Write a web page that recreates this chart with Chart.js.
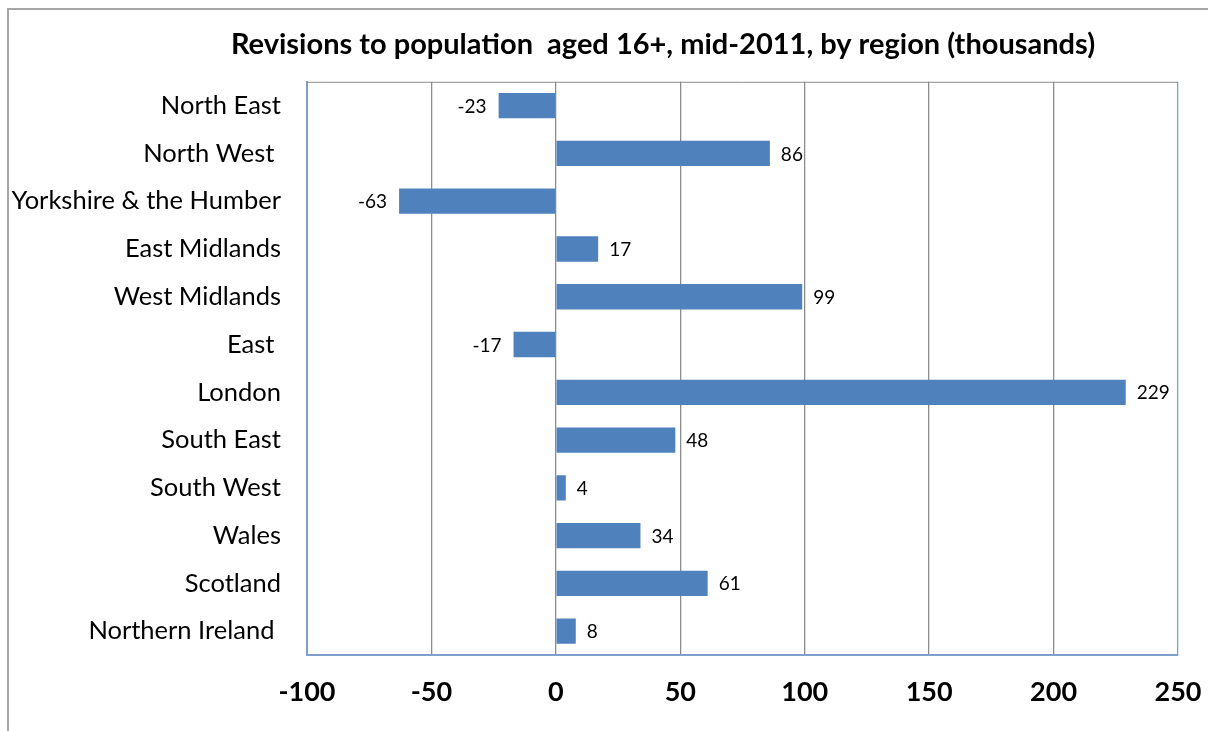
<!DOCTYPE html>
<html>
<head>
<meta charset="utf-8">
<script src="https://cdn.jsdelivr.net/npm/chart.js@4"></script>
<style>
  body { margin: 0; background: #fff; }
  #frame { position: absolute; left: 7px; top: 8px; width: 1400px; height: 900px; border: 2px solid #a6a6a6; }
  #wrap { position: absolute; left: 0; top: 0; width: 1208px; height: 731px; }
</style>
</head>
<body>
<div id="frame"></div>
<div id="wrap"><canvas id="myChart" width="1208" height="731"></canvas></div>
<script>
// Chart data
const regions = ["North East", "North West ", "Yorkshire & the Humber", "East Midlands", "West Midlands", "East ",
    "London", "South East", "South West", "Wales", "Scotland", "Northern Ireland "];
const revisions = [-23, 86, -63, 17, 99, -17, 229, 48, 4, 34, 61, 8];
const xTicks = [-100, -50, 0, 50, 100, 150, 200, 250];

const font = "Lato, 'Open Sans', sans-serif";

// value labels beside each bar
const valueLabels = {
    id: 'valueLabels',
    afterDatasetsDraw(chart) {
        const ctx = chart.ctx;
        const meta = chart.getDatasetMeta(0);
        ctx.save();
        ctx.font = "19px " + font;
        ctx.fillStyle = "#000";
        ctx.textBaseline = "middle";
        meta.data.forEach((bar, i) => {
            const v = revisions[i];
            if (v < 0) {
                ctx.textAlign = "right";
                ctx.fillText(String(v), bar.x - 12, bar.y + 1);
            } else {
                ctx.textAlign = "left";
                ctx.fillText(String(v), bar.x + 11, bar.y + 1);
            }
        });
        ctx.restore();
    }
};

// top edge of the plot area, and title centred like the original
const plotTop = {
    id: 'plotTop',
    afterLayout(chart) {
        const tb = chart.titleBlock;
        if (tb) tb.left = 663 * 2 - tb.right;
    },
    afterDraw(chart) {
        const a = chart.chartArea;
        const ctx = chart.ctx;
        ctx.save();
        ctx.strokeStyle = "#8c8c8c";
        ctx.lineWidth = 1;
        ctx.beginPath();
        ctx.moveTo(a.left, a.top + 0.5);
        ctx.lineTo(a.right, a.top + 0.5);
        ctx.stroke();
        ctx.restore();
    }
};

new Chart(document.getElementById("myChart"), {
    type: 'bar',
    data: {
        labels: regions,
        datasets: [{
            data: revisions,
            backgroundColor: '#4f81bd',
            borderWidth: 0,
            categoryPercentage: 1,
            barPercentage: 0.53
        }]
    },
    options: {
        indexAxis: 'y',
        responsive: false,
        animation: false,
        layout: { padding: { top: 0, right: 30, bottom: 0, left: 0 } },
        plugins: {
            legend: { display: false },
            tooltip: { enabled: false },
            title: {
                display: true,
                text: "Revisions to population  aged 16+, mid-2011, by region (thousands)",
                color: "#000",
                font: { family: font, size: 29, weight: 'bold', lineHeight: 1.2 },
                padding: { top: 27, bottom: 20 }
            }
        },
        scales: {
            x: {
                min: -100,
                max: 250,
                afterBuildTicks: (scale) => { scale.ticks = xTicks.map(v => ({ value: v })); },
                afterFit: (scale) => {
                    scale.height = 76;
                    scale.paddingLeft = 0;
                    scale.paddingRight = 0;
                },
                grid: {
                    drawTicks: false,
                    color: (c) => c.tick && c.tick.value === 250 ? '#7f9fcf' : '#8c8c8c',
                    lineWidth: 1.3
                },
                border: { color: '#7f9fcf', width: 2 },
                ticks: {
                    color: "#000",
                    padding: 21,
                    font: { family: font, size: 27, weight: 'bold' }
                }
            },
            y: {
                afterFit: (scale) => { scale.width = 307; },
                grid: { display: false, drawTicks: false },
                border: { color: '#7f9fcf', width: 2 },
                ticks: {
                    color: "#000",
                    padding: 26,
                    autoSkip: false,
                    font: { family: font, size: 25.5 }
                }
            }
        }
    },
    plugins: [valueLabels, plotTop]
});
</script>
</body>
</html>
